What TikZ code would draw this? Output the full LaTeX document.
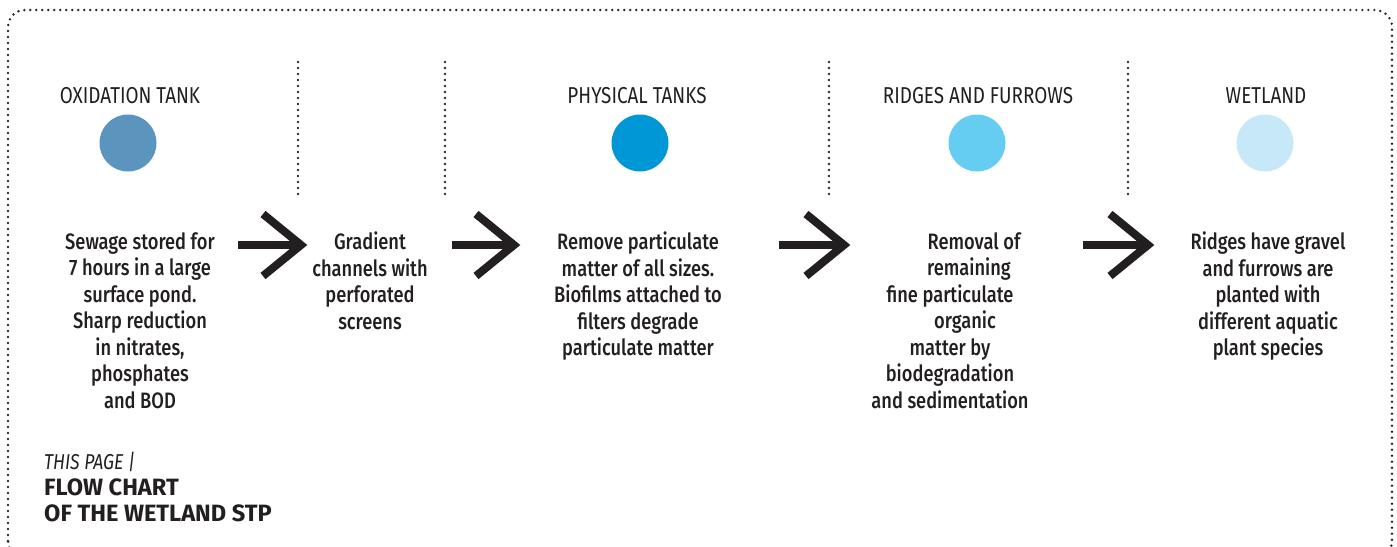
\documentclass[tikz,border=0pt]{standalone}
\usepackage{fontspec}
\setmainfont{Fira Sans}
\newfontfamily\cond[FakeStretch=0.82]{Fira Sans Medium}
\newfontfamily\condt[FakeStretch=0.82]{Fira Sans}
\definecolor{ink}{HTML}{231F20}
\definecolor{dotc}{HTML}{2B2B2B}
\definecolor{cA}{HTML}{5B95BD}
\definecolor{cB}{HTML}{0097D7}
\definecolor{cC}{HTML}{66CDF2}
\definecolor{cD}{HTML}{C6E8F9}
\begin{document}
\begin{tikzpicture}[x=1pt,y=-1pt,
  dotline/.style={draw=dotc, line width=2.7pt, line cap=round, dash pattern=on 0pt off 6pt},
  title/.style={font=\condt\fontsize{23}{26}\selectfont, text=ink, inner sep=0pt, anchor=base},
  desc/.style={font=\cond\fontsize{22.3}{26.5}\selectfont, text=ink, align=center, inner sep=0pt, anchor=north},
  dot/.style={circle, minimum size=57pt, inner sep=0pt},
  shaft/.style={draw=ink, line width=8pt},
  chev/.style={draw=ink, line width=8pt, miter limit=10}]
\useasboundingbox (0,0) rectangle (1397,546);
\begin{scope}
\clip (0,0) rectangle (1397,546);
\draw[dotline, rounded corners=17pt] (8,558) rectangle (1392,10);
\end{scope}
% dividers
\foreach \n/\xx in {d1/298,d2/445,d3/829,d4/1128}{
  \coordinate (\n t) at (\xx,62);
  \coordinate (\n b) at (\xx,197);
  \draw[dotline] (\n t) -- (\n b);
}
% titles
\node[title] (t1) at (130,103) {OXIDATION TANK};
\node[title] (t3) at (637,103) {PHYSICAL TANKS};
\node[title] (t4) at (978,103) {RIDGES AND FURROWS};
\node[title] (t5) at (1266,103) {WETLAND};
% circles
\node[dot, fill=cA] (c1) at (128,143) {};
\node[dot, fill=cB] (c3) at (640,143) {};
\node[dot, fill=cC] (c4) at (977,143) {};
\node[dot, fill=cD] (c5) at (1265,143) {};
% descriptions
\node[desc] (s1) at (140,232) {Sewage stored for\\7 hours in a large\\surface pond.\\Sharp reduction\\in nitrates,\\phosphates\\and BOD};
\node[desc] (s2) at (370,232) {Gradient\\channels with\\perforated\\screens};
\node[desc] (s3) at (638,232) {Remove particulate\\matter of all sizes.\\Biofilms attached to\\filters degrade\\particulate matter};
\node[desc] (s4) at (950,232) {\hspace*{48pt}Removal of\\\hspace*{38pt}remaining\\fine particulate\\\hspace*{30pt}organic\\matter by\\biodegradation\\and sedimentation};
\node[desc] (s5) at (1268,232) {Ridges have gravel\\and furrows are\\planted with\\different aquatic\\plant species};
% arrows
\foreach \n/\xs/\xe in {a1/238/301,a2/452/514,a3/779/844,a4/1083/1148}{
  \coordinate (\n s) at (\xs,245);
  \coordinate (\n e) at (\xe,245);
  \draw[shaft] (\n s) -- (\n e);
  \draw[chev] ([shift={(-38,-31)}]\n e) -- (\n e) -- ([shift={(-38,31)}]\n e);
}
% caption
\node[font=\condt\fontsize{21.5}{24}\selectfont\itshape, text=ink, inner sep=0pt, anchor=base west] (cap1) at (44,469) {THIS PAGE |};
\node[font=\fontsize{23.6}{25.5}\selectfont\bfseries, text=ink, inner sep=0pt, anchor=north west, align=left] (cap2) at (44,479) {FLOW CHART\\OF THE WETLAND STP};
\end{tikzpicture}
\end{document}
